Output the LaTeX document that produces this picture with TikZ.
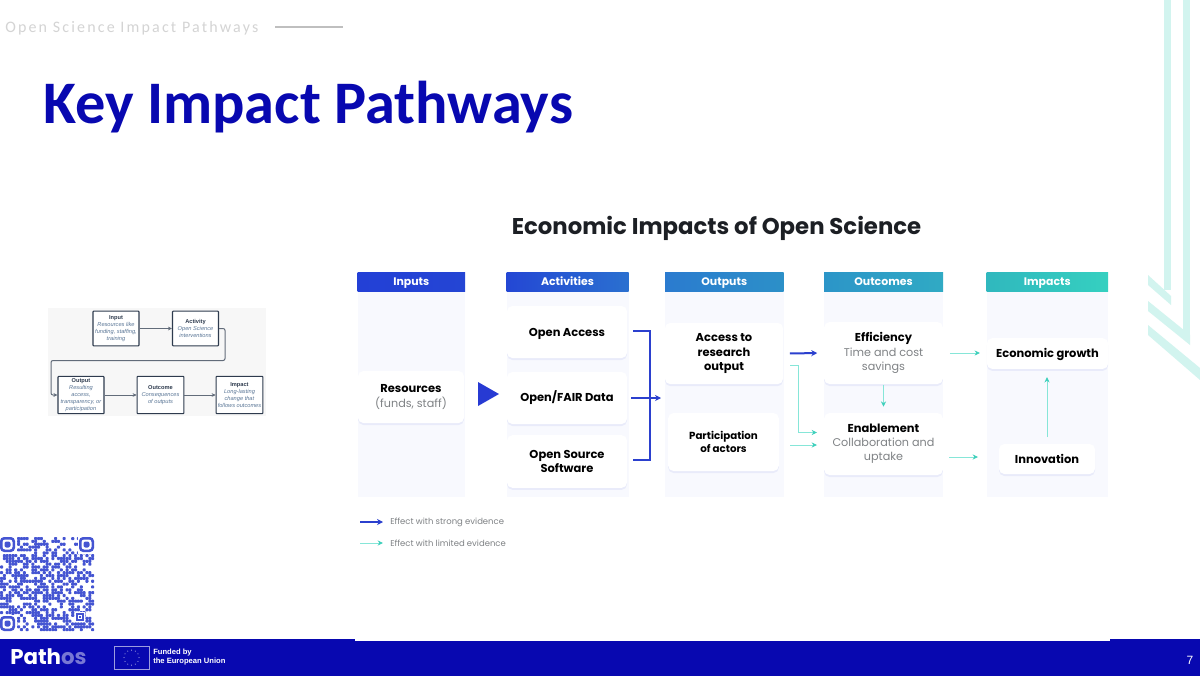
\documentclass[tikz,border=0pt]{standalone}
\usepackage{fontspec}
\setmainfont{Poppins}
\newfontfamily\calfont{Carlito}
\newfontfamily\libfont{Liberation Sans}
\usetikzlibrary{shadows,arrows.meta,calc}
\definecolor{navy}{HTML}{0808B0}
\definecolor{ink}{HTML}{1C1F24}
\definecolor{softgrey}{HTML}{7F8285}
\definecolor{panel}{HTML}{F8F9FE}
\definecolor{strong}{HTML}{2B40CE}
\definecolor{weak}{HTML}{86E6D8}
\definecolor{weakhead}{HTML}{3FD0BC}
\definecolor{deco}{HTML}{D2F4EF}
\definecolor{qr}{HTML}{4555D2}
\definecolor{mini}{HTML}{2E3B4E}
\definecolor{minitext}{HTML}{5A7696}
\tikzset{
 x=0.75pt,y=-0.75pt,
 header/.style={font=\fontsize{8.2pt}{10pt}\selectfont\bfseries,text=white,inner sep=0,text height=6pt,text depth=1.6pt},
 card/.style={fill=white,rounded corners=4pt,align=center,inner sep=0,
   drop shadow={shadow xshift=0pt,shadow yshift=-1.5pt,fill=strong,opacity=.07},
   font=\fontsize{8.6pt}{10.6pt}\selectfont},
 oneline/.style={text height=6.4pt,text depth=.4pt},
 strongline/.style={draw=strong,line width=1.5pt},
 strongarrow/.style={strongline,-{Stealth[length=4.5pt,width=4.6pt]}},
 weakline/.style={draw=weak,line width=.6pt},
 weakarrow/.style={weakline,-{Stealth[length=4pt,width=3.8pt,color=weakhead]}},
 minibox/.style={draw=mini,line width=.8pt,fill=white,align=center,inner sep=0,rounded corners=.5pt,
   font=\libfont\fontsize{4.25pt}{5.15pt}\selectfont,text=minitext},
 miniarrow/.style={draw=mini!75,line width=.75pt,-{Stealth[length=3pt,width=2.8pt]}},
 gap/.style={shorten <=5pt,shorten >=5pt},
}
\newcommand{\mh}[1]{{\bfseries\color{mini}#1}\\}
\newcommand{\subt}[1]{{\fontsize{8.4pt}{10.6pt}\selectfont\color{softgrey}#1}}
\begin{document}
\begin{tikzpicture}
\useasboundingbox (0,0) rectangle (1200,676);
\fill[white] (0,0) rectangle (1200,676);
% right-hand decoration
\fill[deco] (1164,0) rectangle (1171,290);
\fill[deco] (1183,0) rectangle (1190,338);
\fill[deco] (1148,275) -- (1171,296) -- (1171,305) -- (1148,285) -- cycle;
\fill[deco] (1148,301) -- (1190,335) -- (1190,345) -- (1148,311) -- cycle;
\fill[deco] (1148,325) -- (1200,368) -- (1200,380) -- (1148,335) -- cycle;
% header
\node[anchor=base west,inner sep=0,text=black!17,font=\calfont\fontsize{12pt}{14pt}\selectfont] (kicker) at (5,32.5) {\addfontfeature{LetterSpace=13.5}Open Science Impact Pathways};
\coordinate (kickerend) at (343,27);
\draw[black!25,line width=.9pt] (275,27) -- (kickerend);
\node[anchor=base west,inner sep=0,text=navy,font=\calfont\bfseries\fontsize{45.3pt}{50pt}\selectfont] (title) at (43,123.5) {Key Impact Pathways};
% small logic model
\fill[black!3] (48,308) rectangle (266,416);
\node[minibox,minimum width=34.5pt,minimum height=26pt] (mi) at (116,328.5) {\mh{Input}\textit{Resources like}\\\textit{funding, staffing,}\\\textit{training}};
\node[minibox,minimum width=34.5pt,minimum height=26pt] (ma) at (195.5,328.5) {\mh{Activity}\textit{Open Science}\\\textit{interventions}};
\node[minibox,minimum width=34.5pt,minimum height=28pt] (mo) at (81,395) {\mh{Output}\textit{Resulting}\\\textit{access,}\\\textit{transparency, or}\\\textit{participation}};
\node[minibox,minimum width=35pt,minimum height=28pt] (mc) at (160.5,395) {\mh{Outcome}\textit{Consequences}\\\textit{of outputs}};
\node[minibox,minimum width=35pt,minimum height=28pt] (mp) at (239.5,395) {\mh{Impact}\textit{Long-lasting}\\\textit{change that}\\\textit{follows outcomes}};
\draw[miniarrow] (mi) -- (ma);
\draw[miniarrow,rounded corners=1.5pt] (ma.east) -- ++(6,0) -- ++(0,32) -- (51,360.5) -- (51,395) -- (mo.west);
\draw[miniarrow] (mo) -- (mc);
\draw[miniarrow] (mc) -- (mp);
% QR code
\pgfmathsetseed{7}
\foreach \i in {0,...,32}{\foreach \j in {0,...,32}{
  \pgfmathtruncatemacro{\qrbit}{rnd<0.5?1:0}
  \ifnum\qrbit=1
    \fill[qr,rounded corners=.6pt] ({\i*94/33},{537+\j*94/33}) rectangle ++(3.05,3.05);
  \fi}}
\foreach \qx/\qy in {0/537,79/537,0/616}{
  \fill[white] (\qx-1,\qy-1) rectangle ++(17.5,17.5);
  \fill[qr,rounded corners=3pt] (\qx,\qy) rectangle ++(15,15);
  \fill[white,rounded corners=2pt] (\qx+2.5,\qy+2.5) rectangle ++(10,10);
  \fill[qr,rounded corners=1.5pt] (\qx+4.5,\qy+4.5) rectangle ++(6,6);
}
\fill[white] (75,612) rectangle ++(10,10);
\fill[qr] (76,613) rectangle ++(8,8);
\fill[white] (78,615) rectangle ++(4,4);
\fill[qr] (79,616) rectangle ++(2,2);
% main panels
\foreach \xa/\xb/\ca/\cb/\lab/\nm in {
 357.5/465/2340D6/2445D4/Inputs/hi,
 506.5/628.5/2447D4/2A70D0/Activities/ha,
 665/783.5/2B7BCF/2C90C8/Outputs/ho,
 824/943/2C95C8/30AAC4/Outcomes/hc,
 986.5/1108/30B8BE/35D0C0/Impacts/hm}{
  \fill[panel] (\xa,291.5) rectangle (\xb,497);
  \definecolor{cL}{HTML}{\ca}\definecolor{cR}{HTML}{\cb}
  \shade[left color=cL,right color=cR] (\xa,272.5) rectangle (\xb,291.5);
  \node[header] (\nm) at ({(\xa+\xb)/2},282.3) {\lab};
}
\node[inner sep=0,font=\fontsize{17.1pt}{20pt}\selectfont\bfseries,text=ink] (maintitle) at (716.5,228) {Economic Impacts of Open Science};
% cards
\node[card,minimum width=79.5pt,minimum height=39pt] (res) at (411,397) {\textbf{Resources}\\\subt{(funds, staff)}};
\node[card,oneline,minimum width=90pt,minimum height=39pt] (oa) at (567,332) {\textbf{Open Access}};
\node[card,minimum width=90pt,minimum height=39pt] (fair) at (567,398) {\textbf{Open/FAIR Data}};
\node[card,minimum width=90pt,minimum height=39.5pt] (oss) at (567,461.5) {\textbf{Open Source}\\\textbf{Software}};
\node[card,minimum width=88.5pt,minimum height=46pt] (acc) at (724,353.5) {\textbf{Access to}\\\textbf{research}\\\textbf{output}};
\node[card,minimum width=83pt,minimum height=43.5pt,font=\fontsize{7.7pt}{9.8pt}\selectfont] (part) at (723.5,442) {\textbf{Participation}\\\textbf{of actors}};
\node[card,minimum width=89pt,minimum height=46.5pt] (eff) at (883.5,353) {\textbf{Efficiency}\\\subt{Time and cost}\\\subt{savings}};
\node[card,minimum width=89pt,minimum height=46.5pt] (ena) at (883.5,444) {\textbf{Enablement}\\\subt{Collaboration and}\\\subt{uptake}};
\node[card,oneline,minimum width=91pt,minimum height=23pt] (eco) at (1047.5,353.5) {\textbf{Economic growth}};
\node[card,oneline,minimum width=72pt,minimum height=22.5pt] (inn) at (1047,459) {\textbf{Innovation}};
% big triangle
\fill[strong!90!blue] (478,382) -- (499,394) -- (478,406) -- cycle;
% strong connectors
\coordinate (join) at (650,397);
\coordinate (joinend) at (661,397);
\draw[strongline,shorten <=4.5pt] ([yshift=.75pt]oa.east) -| (join);
\draw[strongline,shorten <=4.5pt] ([yshift=1pt]oss.east) -| (join);
\draw[strongarrow,shorten <=3pt] (fair.east) -- (joinend |- fair.east);
\draw[strongarrow,gap] (acc.east) -- (eff.west);
% weak connectors
\coordinate (tapa) at (790,365);
\coordinate (tapb) at (798,432.5);
\coordinate (tapc) at (817,432.5);
\draw[weakarrow] (tapa) -- (798,365) -- (tapb) -- (tapc);
\coordinate (pa) at (790,445);
\coordinate (pb) at (817,445);
\draw[weakarrow] (pa) -- (pb);
\draw[weakarrow,shorten <=.5pt,shorten >=4.5pt] (eff.south) -- (ena.north);
\draw[weakarrow,gap] (eff.east) -- (eff.east -| eco.west);
\coordinate (ea) at (949,457);
\coordinate (eb) at (978,457);
\draw[weakarrow] (ea) -- (eb);
\draw[weakarrow,shorten <=5pt,shorten >=6pt] (inn.north) -- (eco.south -| inn.north);
% legend
\coordinate (la) at (360,522); \coordinate (lb) at (383,522);
\coordinate (lc) at (360,543); \coordinate (ld) at (383,543);
\draw[strongarrow] (la) -- (lb);
\draw[weakarrow] (lc) -- (ld);
\node[anchor=west,inner sep=0,text=softgrey,font=\fontsize{6.35pt}{8pt}\selectfont] (ls) at (390,522.5) {Effect with strong evidence};
\node[anchor=west,inner sep=0,text=softgrey,font=\fontsize{6.35pt}{8pt}\selectfont] (lw) at (390,543.5) {Effect with limited evidence};
% footer
\fill[navy] (0,639) rectangle (1200,676);
\fill[white] (355,638) rectangle (1110,641);
\node[anchor=base west,inner sep=0,font=\bfseries\fontsize{16pt}{18pt}\selectfont,text=white] (logo) at (10,664) {Path\textcolor{white!45!navy}{os}};
\coordinate (flagA) at (114.5,646); \coordinate (flagB) at (149,669);
\draw[white!60!navy,line width=.6pt] (flagA) rectangle (flagB);
\foreach \a in {0,30,...,330}{\fill[white!85!navy] ($(131.5,657.5)+(\a:7.5)$) circle (.5);}
\node[anchor=west,inner sep=0,align=left,text=white,font=\libfont\bfseries\fontsize{5.7pt}{6.9pt}\selectfont] (fund) at (153,656.8) {Funded by\\the European Union};
\node[inner sep=0,text=white,font=\libfont\fontsize{9pt}{11pt}\selectfont] (page) at (1190,660) {7};
\end{tikzpicture}
\end{document}
